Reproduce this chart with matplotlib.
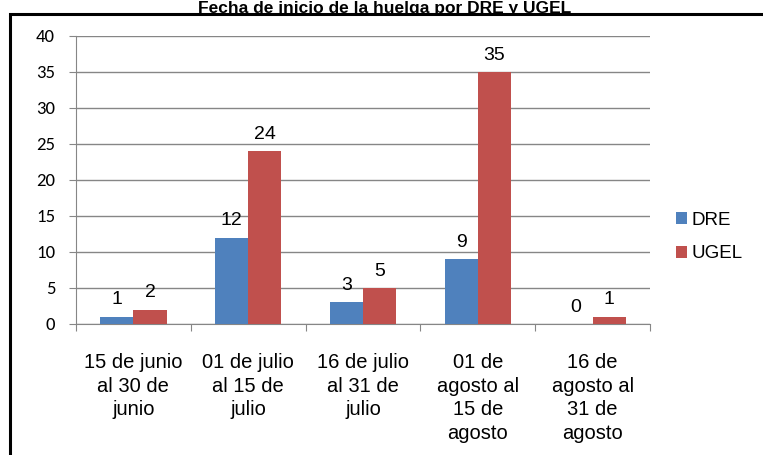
import matplotlib.pyplot as plt
import numpy as np
from matplotlib.patches import Rectangle

categories = ["15 de junio\nal 30 de\njunio", "01 de julio\nal 15 de\njulio",
              "16 de julio\nal 31 de\njulio", "01 de\nagosto al\n15 de\nagosto",
              "16 de\nagosto al\n31 de\nagosto"]
dre = [1, 12, 3, 9, 0]
ugel = [2, 24, 5, 35, 1]
yticks = [0, 5, 10, 15, 20, 25, 30, 35, 40]

sans = ['Liberation Sans', 'DejaVu Sans']

fig = plt.figure(figsize=(7.63, 4.55), dpi=100)
# plot area in pixel coordinates of the reference
ax = fig.add_axes([76 / 763, 1 - 324 / 455, (650 - 76) / 763, (324 - 36) / 455])

x = np.arange(len(categories))
width = 0.29
b1 = ax.bar(x - width / 2, dre, width, color='#4f81bd', label='DRE', zorder=3)
b2 = ax.bar(x + width / 2, ugel, width, color='#c0504d', label='UGEL', zorder=3)

for rects in (b1, b2):
    for r in rects:
        h = r.get_height()
        ax.annotate('{}'.format(int(h)), xy=(r.get_x() + r.get_width() / 2, h),
                    xytext=(0, 6), textcoords='offset points', ha='center', va='bottom',
                    fontsize=14, family=sans)

ax.set_xlim(-0.5, len(categories) - 0.5)
ax.set_ylim(0, 40)
ax.set_yticks(yticks)
ax.set_yticklabels([str(v) for v in yticks], fontsize=13.5, family=['Carlito'] + sans)
ax.yaxis.grid(True, color='#868686', linewidth=1, zorder=0)

ax.set_xticks(np.arange(len(categories) + 1) - 0.5)
ax.set_xticklabels([])
ax.set_xticks(x, minor=True)
ax.set_xticklabels(categories, minor=True, fontsize=14.5, family=['Liberation Sans Narrow'] + sans,
                   linespacing=1.3, va='top')
ax.tick_params(axis='x', which='minor', length=0, pad=21)
ax.tick_params(axis='x', which='major', direction='out', length=5, color='#868686')
ax.tick_params(axis='y', direction='out', length=5, color='#868686', pad=10)

for s in ['top', 'right']:
    ax.spines[s].set_visible(False)
for s in ['left', 'bottom']:
    ax.spines[s].set_color('#868686')

fig.legend(handles=[b1, b2], labels=['DRE', 'UGEL'], loc='center left',
           bbox_to_anchor=(672 / 763, 1 - 237 / 455), frameon=False,
           prop={'family': sans, 'size': 13.5},
           handlelength=0.6, handleheight=0.6, handletextpad=0.25, labelspacing=0.9,
           borderaxespad=0, borderpad=0.2)

fig.text(385 / 763, 1 - 1 / 455, 'Fecha de inicio de la huelga por DRE y UGEL',
         ha='center', va='top', fontsize=12.5, fontweight='bold', family=sans)

# outer chart frame (partly cut off in the reference)
fig.patches.append(Rectangle((10 / 763, -0.1), 1.0, 1 - 14 / 455 + 0.1, transform=fig.transFigure,
                             fill=False, edgecolor='black', linewidth=2.2))

fig.savefig('out.png', dpi=100)
